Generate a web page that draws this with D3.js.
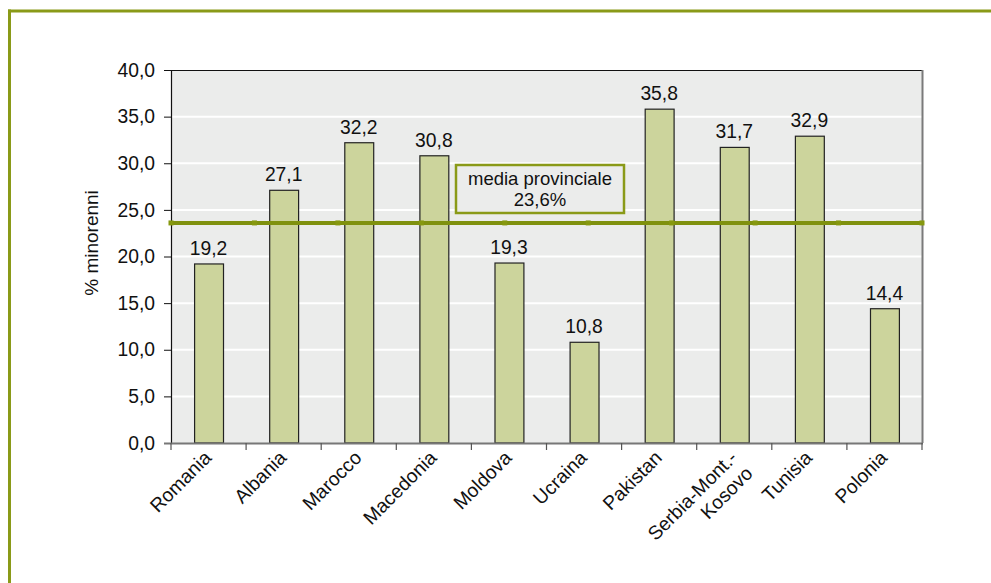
<!DOCTYPE html>
<html><head><meta charset="utf-8">
<script src="https://cdn.jsdelivr.net/npm/d3@7"></script>
<style>
body{margin:0;background:#fff;}
svg{display:block;font-family:"Liberation Sans",Arial,Helvetica,sans-serif;}
</style></head>
<body>
<svg id="c" width="991" height="583"></svg>
<script>
const categories = ["Romania","Albania","Marocco","Macedonia","Moldova","Ucraina","Pakistan","Serbia-Mont.-\nKosovo","Tunisia","Polonia"];
const values = [19.2,27.1,32.2,30.8,19.3,10.8,35.8,31.7,32.9,14.4];
const yTicks = [0,5,10,15,20,25,30,35,40];
const mediaValue = 23.6;
const mediaLabel = ["media provinciale","23,6%"];
const yTitle = "% minorenni";

const svg = d3.select("#c");
const fmt = v => d3.format(".1f")(v).replace(".", ",");
const FS = 19.3;

// frame
const frameCol = "#8a9a18";
svg.append("line").attr("x1",8).attr("x2",991).attr("y1",11).attr("y2",11).attr("stroke",frameCol).attr("stroke-width",3);
svg.append("line").attr("x1",9.5).attr("x2",9.5).attr("y1",9.5).attr("y2",583).attr("stroke",frameCol).attr("stroke-width",3);

const L=171, R=922, T=70, B=443;
const x = d3.scaleBand().domain(categories).range([L,R]).paddingInner(0.615).paddingOuter(0.3075);
const y = d3.scaleLinear().domain([0,40]).range([B,T]);

// plot area
svg.append("rect").attr("x",L).attr("y",T).attr("width",R-L).attr("height",B-T).attr("fill","#ebeceb");
// grid
svg.append("g").selectAll("line").data(yTicks.filter(d=>d>0&&d<40)).join("line")
  .attr("x1",L).attr("x2",R).attr("y1",d=>y(d)).attr("y2",d=>y(d))
  .attr("stroke","#ffffff").attr("stroke-width",2);
// top border and right border
svg.append("line").attr("x1",L).attr("x2",R).attr("y1",T+0.5).attr("y2",T+0.5).attr("stroke","#111").attr("stroke-width",1);
svg.append("line").attr("x1",R+0.5).attr("x2",R+0.5).attr("y1",T).attr("y2",B).attr("stroke","#7a7a7a").attr("stroke-width",2);

// bars
svg.append("g").selectAll("rect").data(values).join("rect")
  .attr("x",(d,i)=>x(categories[i])+0.5)
  .attr("y",d=>y(d))
  .attr("width",x.bandwidth())
  .attr("height",d=>B-y(d))
  .attr("fill","#ccd49c").attr("stroke","#222").attr("stroke-width",1.2);

// value labels
svg.append("g").selectAll("text").data(values).join("text")
  .attr("x",(d,i)=>x(categories[i])+x.bandwidth()/2)
  .attr("y",d=>y(d)-9)
  .attr("text-anchor","middle").attr("font-size",FS).attr("fill","#111")
  .text(d=>fmt(d));

// y axis
const yAxis = d3.axisLeft(y).tickValues(yTicks).tickFormat(fmt).tickSize(7).tickPadding(9);
const gy = svg.append("g").attr("transform",`translate(${L},0)`).call(yAxis);
gy.select(".domain").attr("stroke","#111").attr("stroke-width",1.2);
gy.selectAll(".tick line").attr("stroke","#111");
gy.selectAll("text").attr("font-size",FS).attr("fill","#111").attr("font-family","Liberation Sans, Arial, sans-serif");

// x axis (category boundaries)
const xEdge = d3.scaleLinear().domain([0,categories.length]).range([L,R]);
svg.append("line").attr("x1",L-7).attr("x2",R+1).attr("y1",B+0.5).attr("y2",B+0.5).attr("stroke","#777").attr("stroke-width",2);
svg.append("g").selectAll("line").data(d3.range(categories.length+1)).join("line")
  .attr("x1",d=>xEdge(d)).attr("x2",d=>xEdge(d)).attr("y1",B).attr("y2",B+7)
  .attr("stroke","#555").attr("stroke-width",1.2);

// x labels
const xl = svg.append("g").selectAll("g").data(categories).join("g")
  .attr("transform",d=>`translate(${x(d)+x.bandwidth()/2+4},${B+16}) rotate(-45)`);
xl.each(function(d){
  const lines = d.split("\n");
  const t = d3.select(this).append("text").attr("text-anchor","end").attr("font-size",FS).attr("fill","#111");
  lines.forEach((ln,i)=>{
    t.append("tspan").attr("x",0).attr("y",0).attr("dy",(i*1.15)+"em").text(ln);
  });
});

// y title
svg.append("text").attr("transform",`translate(98,243) rotate(-90)`)
  .attr("text-anchor","middle").attr("font-size",19).attr("fill","#111").text(yTitle);

// media line
const lineCol = "#7f910e";
svg.append("line").attr("x1",L).attr("x2",R).attr("y1",y(mediaValue)).attr("y2",y(mediaValue))
  .attr("stroke",lineCol).attr("stroke-width",4).attr("stroke-linecap","round");
const mk = d3.scaleLinear().domain([0,9]).range([L,R]);
svg.append("g").selectAll("rect").data(d3.range(10)).join("rect")
  .attr("x",d=>mk(d)-2.5).attr("y",y(mediaValue)-2.5).attr("width",5).attr("height",5).attr("fill","#86980f");

// label box
const bx=456, by=165, bw=168, bh=48;
svg.append("rect").attr("x",bx).attr("y",by).attr("width",bw).attr("height",bh)
  .attr("fill","#ebeceb").attr("stroke","#8a9a18").attr("stroke-width",2.5);
const bt = svg.append("text").attr("text-anchor","middle").attr("font-size",18.5).attr("fill","#111");
mediaLabel.forEach((d,i)=>{
  bt.append("tspan").attr("x",bx+bw/2).attr("y",by+19.5+i*21).text(d);
});
</script>
</body></html>
